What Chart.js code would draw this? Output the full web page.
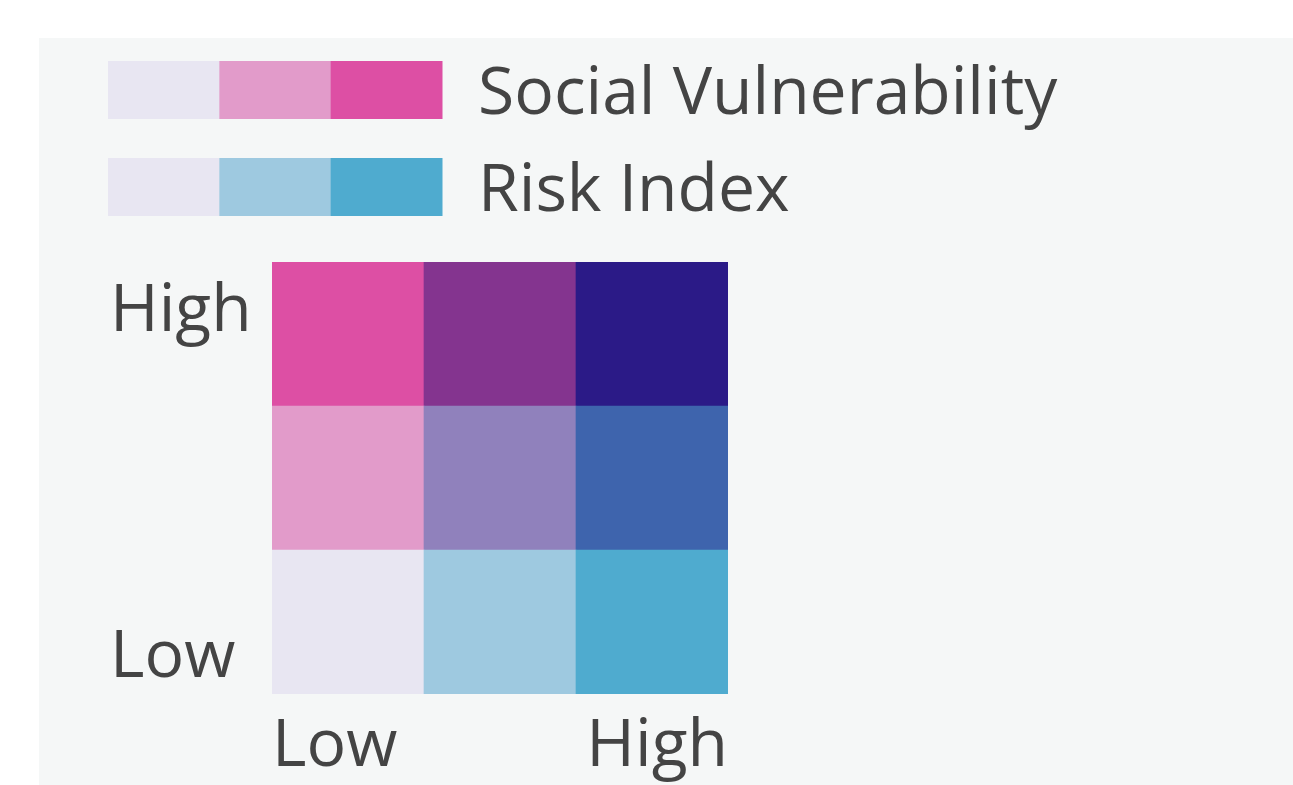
<!DOCTYPE html>
<html>
<head>
<meta charset="utf-8">
<title>Social Vulnerability / Risk Index</title>
<script src="https://cdn.jsdelivr.net/npm/chart.js@4.4.1/dist/chart.umd.min.js"></script>
<style>
  html, body { margin: 0; padding: 0; background: #fff; }
  #wrap { width: 1293px; height: 785px; }
</style>
</head>
<body>
<div id="wrap"><canvas id="bivariate"></canvas></div>
<script>
// Risk Index runs left -> right, Social Vulnerability bottom -> top
const riskLevels = ['Low', 'Medium', 'High'];
const vulnLevels = ['Low', 'Medium', 'High'];
const cellValue = [1, 1, 1];

// cell colours per vulnerability row (bottom row first), one per risk column
const lowVulnColors  = ['#e8e6f2', '#9ec9e0', '#4fabcf'];
const midVulnColors  = ['#e29bca', '#9081bc', '#3e64ad'];
const highVulnColors = ['#dd4fa4', '#84348f', '#2b1a87'];

// legend ramps
const vulnRamp = ['#e8e6f2', '#e29bca', '#dd4fa4'];
const riskRamp = ['#e8e6f2', '#9ec9e0', '#4fabcf'];
const legendNames = ['Social Vulnerability', 'Risk Index'];
const axisTickLabels = ['Low', 'High'];

const FONT_FAMILY = '"Open Sans", "Noto Sans", sans-serif';
const FONT_SIZE = 66;
const TEXT = '#444';

Chart.defaults.font.family = FONT_FAMILY;
Chart.defaults.color = TEXT;

// grey panel behind everything + the two colour ramps at the top
const rampLegend = {
  id: 'rampLegend',
  beforeDraw(chart) {
    const { ctx } = chart;
    ctx.save();
    ctx.fillStyle = '#f5f7f7';
    ctx.fillRect(39, 38, chart.width - 39, chart.height - 38);
    ctx.restore();
  },
  afterDraw(chart) {
    const { ctx } = chart;
    const ramps = [vulnRamp, riskRamp];
    const left = 108, stepW = 334 / 3, h = 58;
    ctx.save();
    ctx.font = FONT_SIZE + 'px ' + FONT_FAMILY;
    ctx.textBaseline = 'middle';
    ramps.forEach((ramp, r) => {
      const top = 61 + r * 97;
      ramp.forEach((c, i) => {
        ctx.fillStyle = c;
        ctx.fillRect(left + i * stepW, top, stepW + 0.5, h);
      });
      ctx.fillStyle = TEXT;
      ctx.fillText(legendNames[r], 478, top + h / 2 + 5);
    });
    ctx.restore();
  }
};

const rows = [lowVulnColors, midVulnColors, highVulnColors];

new Chart(document.getElementById('bivariate'), {
  type: 'bar',
  data: {
    labels: riskLevels,
    datasets: vulnLevels.map((lvl, i) => ({
      label: 'Social Vulnerability ' + lvl,
      data: cellValue,
      backgroundColor: rows[i],
      borderWidth: 0,
      barPercentage: 1,
      categoryPercentage: 1
    }))
  },
  options: {
    responsive: true,
    maintainAspectRatio: false,
    animation: false,
    layout: { padding: { left: 110, right: 565, top: 262, bottom: 0 } },
    plugins: { legend: { display: false }, tooltip: { enabled: false } },
    scales: {
      x: { stacked: true, display: false },
      xl: {
        type: 'linear',
        axis: 'x',
        position: 'bottom',
        offset: false,
        min: 0,
        max: 3,
        grid: { display: false, offset: false },
        border: { display: false },
        afterBuildTicks: s => { s.ticks = [{ value: 0 }, { value: 3 }]; },
        afterFit: s => { s.height = 91; },
        ticks: {
          align: 'inner',
          autoSkip: false,
          maxRotation: 0,
          padding: 6,
          font: { size: FONT_SIZE },
          callback: (v, i) => axisTickLabels[i]
        }
      },
      y: {
        stacked: true,
        min: 0,
        max: 3,
        grid: { display: false },
        border: { display: false },
        afterBuildTicks: s => { s.ticks = [{ value: 0.25 }, { value: 2.65 }]; },
        afterFit: s => { s.width = 162; },
        ticks: {
          crossAlign: 'far',
          autoSkip: false,
          padding: 20,
          font: { size: FONT_SIZE },
          callback: (v, i) => axisTickLabels[i]
        }
      }
    }
  },
  plugins: [rampLegend]
});
</script>
</body>
</html>
